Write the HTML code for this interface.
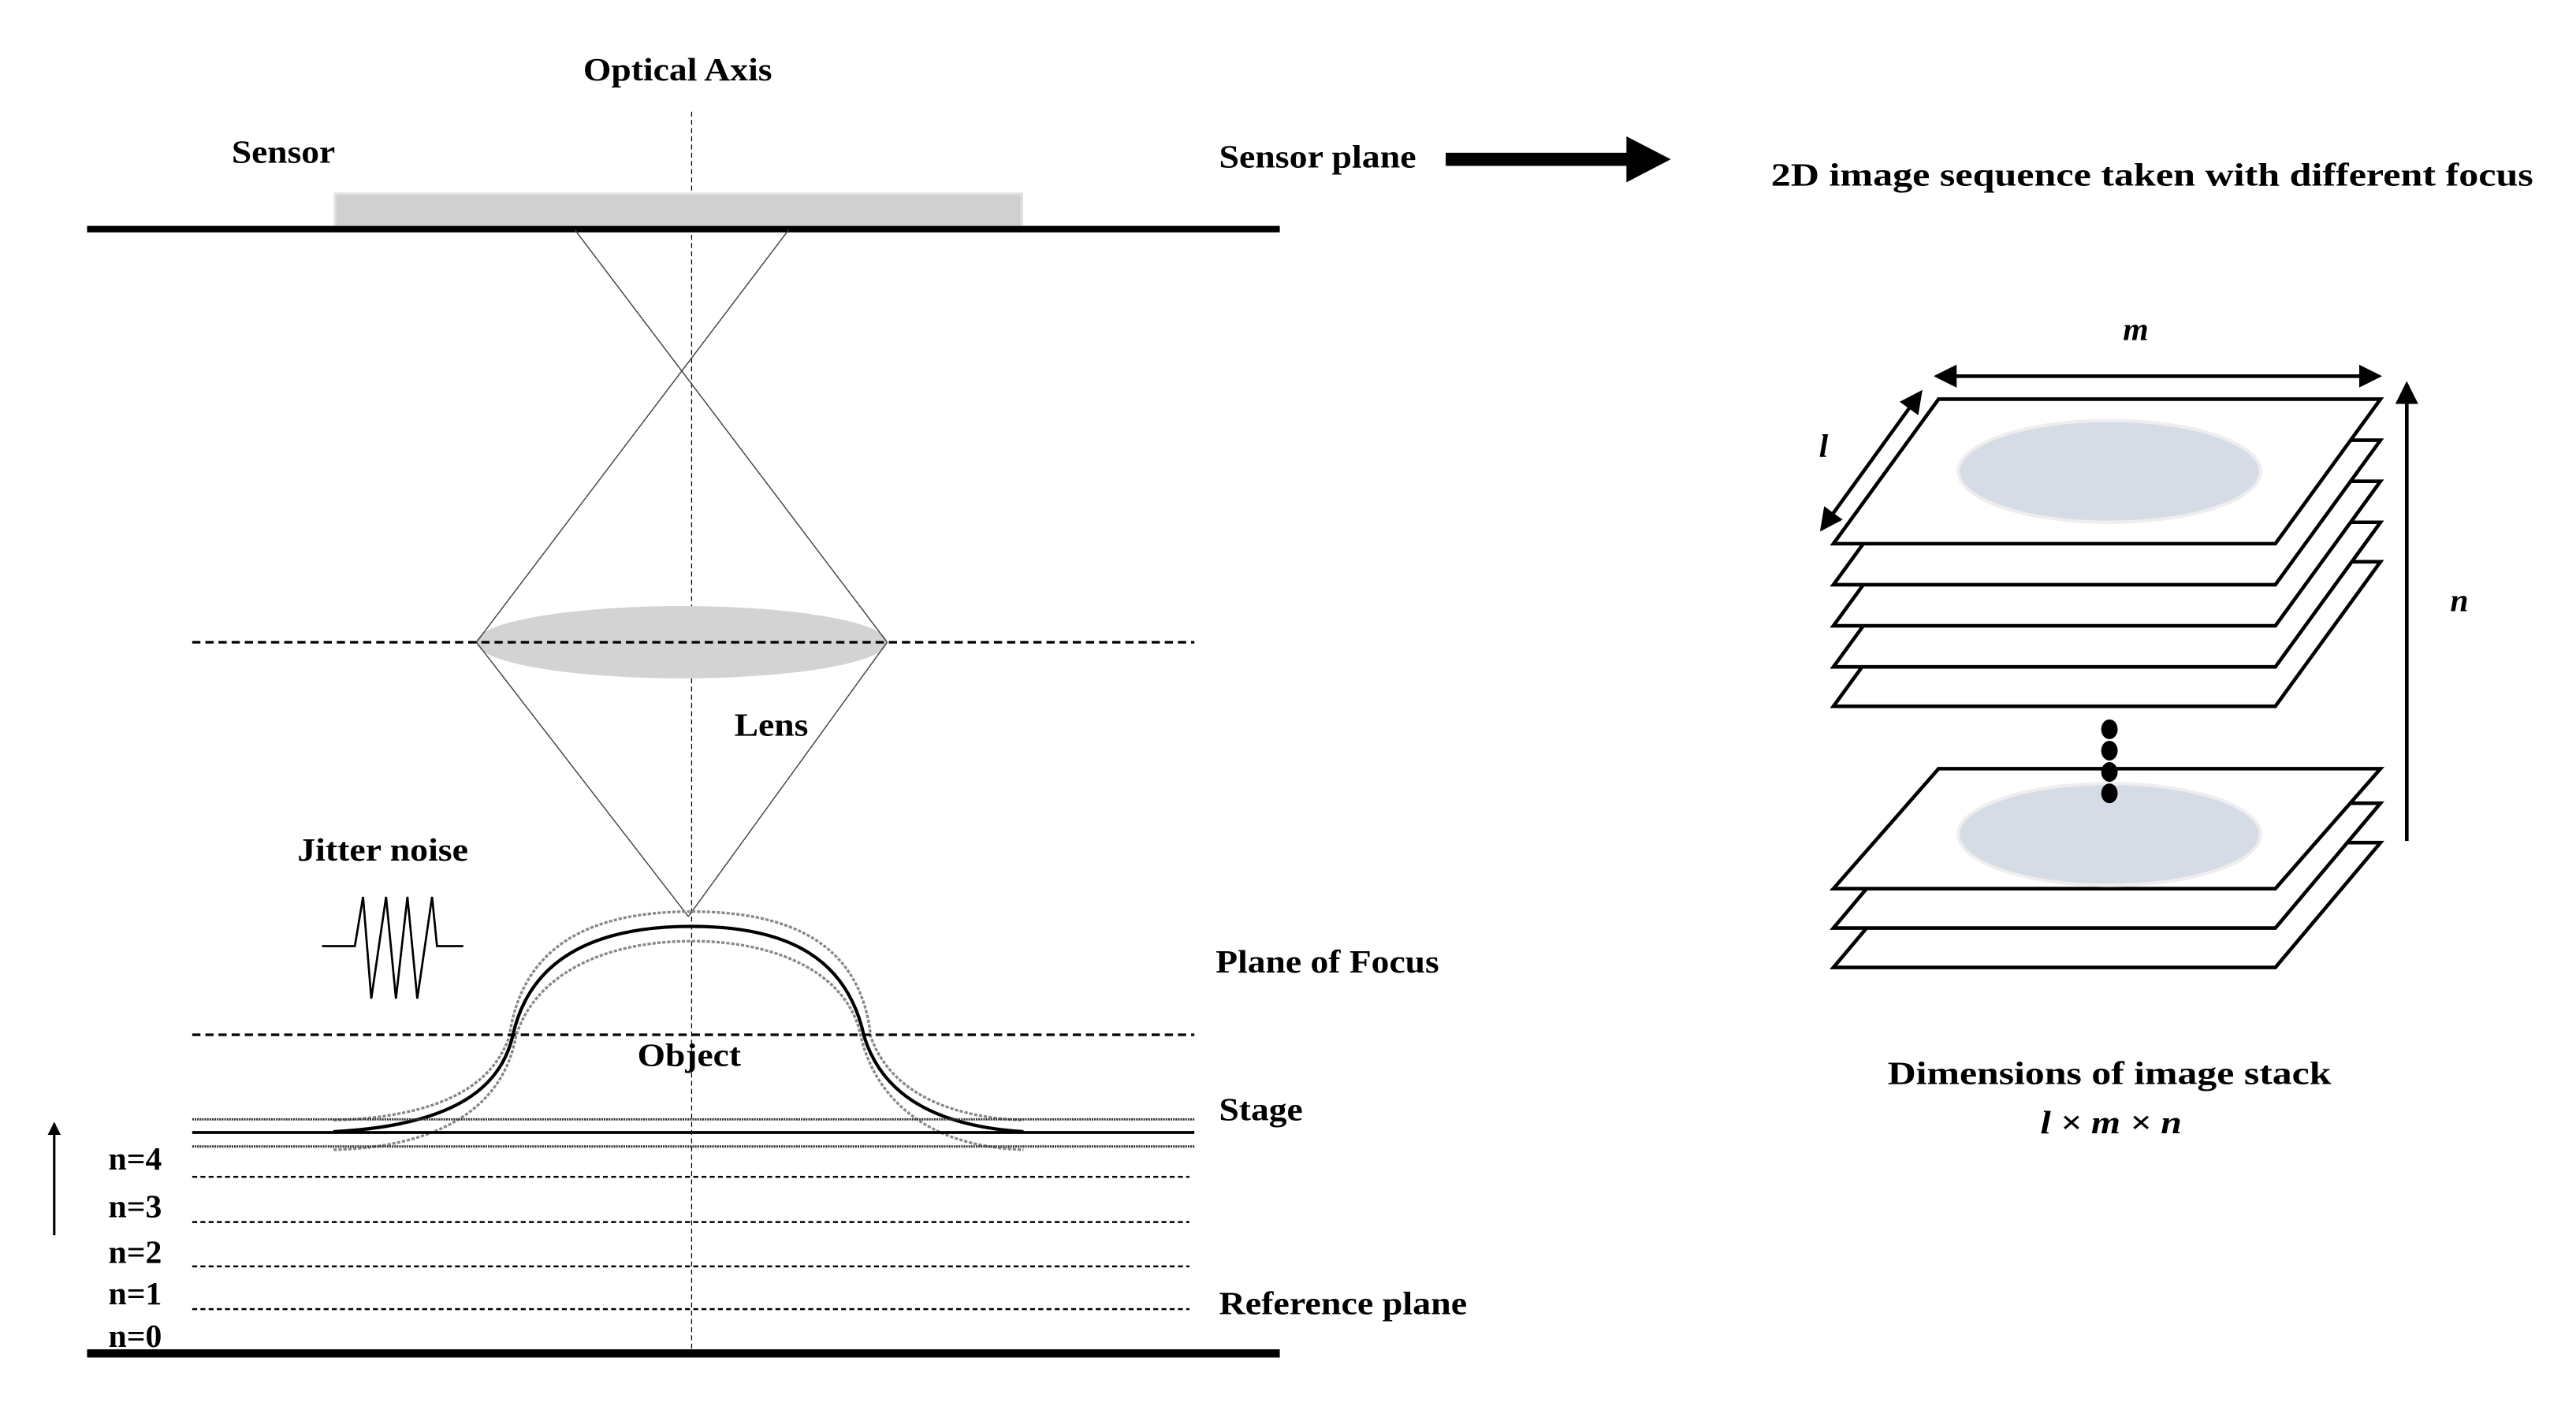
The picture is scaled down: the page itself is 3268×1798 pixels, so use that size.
<!DOCTYPE html>
<html><head><meta charset="utf-8"><style>
html,body{margin:0;padding:0;background:#fff}
svg{display:block}
text{font-family:"Liberation Serif",serif;font-weight:bold;font-size:20px;fill:#000}
</style></head><body>
<svg width="3268" height="1798" viewBox="0 0 1568 862.7" preserveAspectRatio="none" xmlns="http://www.w3.org/2000/svg">
<defs>
<marker id="ah" markerWidth="8" markerHeight="8" refX="7" refY="4" orient="auto" markerUnits="userSpaceOnUse"><path d="M0,0 L8,4 L0,8 z" fill="#000"/></marker>
<marker id="ah2" markerWidth="14" markerHeight="14" refX="12" refY="7" orient="auto-start-reverse" markerUnits="userSpaceOnUse"><path d="M0,0 L14,7 L0,14 z" fill="#000"/></marker>
</defs>
<text x="355" y="49" textLength="115" lengthAdjust="spacingAndGlyphs">Optical Axis</text>
<line x1="421" y1="68" x2="421" y2="822" stroke="#000" stroke-width="0.6" stroke-dasharray="3,2"/>
<text x="141" y="99" textLength="63" lengthAdjust="spacingAndGlyphs">Sensor</text>
<rect x="204" y="118" width="418" height="20" fill="#d0d0d0" stroke="#e0e0e0" stroke-width="1.5"/>
<line x1="53" y1="139.5" x2="779" y2="139.5" stroke="#000" stroke-width="4"/>
<text x="742" y="102" textLength="120" lengthAdjust="spacingAndGlyphs">Sensor plane</text>
<rect x="880" y="93" width="112" height="8" fill="#000"/>
<path d="M990,83 L1017,97 L990,111 z" fill="#000"/>
<text x="1078" y="113" textLength="464" lengthAdjust="spacingAndGlyphs">2D image sequence taken with different focus</text>
<ellipse cx="415" cy="391" rx="125" ry="22" fill="#d3d3d3"/>
<g stroke="#444" stroke-width="0.7" fill="none">
<line x1="350" y1="140" x2="540" y2="391"/>
<line x1="480" y1="140" x2="290" y2="391"/>
<line x1="290" y1="391" x2="419" y2="558"/>
<line x1="540" y1="391" x2="419" y2="558"/>
</g>
<line x1="117" y1="391" x2="727" y2="391" stroke="#000" stroke-width="1.6" stroke-dasharray="5,3"/>
<text x="447" y="448" textLength="45" lengthAdjust="spacingAndGlyphs">Lens</text>
<text x="181" y="524" textLength="104" lengthAdjust="spacingAndGlyphs">Jitter noise</text>
<polyline points="196,576 216,576 221,546 226,608 235,546 241,608 248,546 254,608 263,546 266,576 282,576" fill="none" stroke="#000" stroke-width="1.3"/>
<path d="M203,682 C270,680 300,660 310,631 C318,575 360,555 421,555 C482,555 524,575 530,631 C540,660 570,680 623,682" fill="none" stroke="#888" stroke-width="1.6" stroke-dasharray="2,1"/>
<path d="M203,700 C280,698 308,665 314,631 C325,595 365,573 421,573 C477,573 517,595 524,631 C532,665 560,698 623,700" fill="none" stroke="#888" stroke-width="1.6" stroke-dasharray="2,1"/>
<path d="M203,689 C280,685 305,660 312,631 C322,585 360,564 421,564 C482,564 516,585 526,631 C535,660 560,685 623,689" fill="none" stroke="#000" stroke-width="2"/>
<line x1="117" y1="630" x2="727" y2="630" stroke="#000" stroke-width="1.6" stroke-dasharray="5,3"/>
<text x="740" y="592" textLength="136" lengthAdjust="spacingAndGlyphs">Plane of Focus</text>
<text x="388" y="649" textLength="63" lengthAdjust="spacingAndGlyphs">Object</text>
<line x1="117" y1="681.5" x2="727" y2="681.5" stroke="#333" stroke-width="1.4" stroke-dasharray="1,0.5"/>
<line x1="117" y1="689.5" x2="727" y2="689.5" stroke="#000" stroke-width="1.8"/>
<line x1="117" y1="698" x2="727" y2="698" stroke="#333" stroke-width="1.4" stroke-dasharray="1,0.5"/>
<text x="742" y="682" textLength="51" lengthAdjust="spacingAndGlyphs">Stage</text>
<g stroke="#000" stroke-width="1.2" stroke-dasharray="3,2">
<line x1="117" y1="716.5" x2="724" y2="716.5"/>
<line x1="117" y1="744" x2="724" y2="744"/>
<line x1="117" y1="771" x2="724" y2="771"/>
<line x1="117" y1="797" x2="724" y2="797"/>
</g>
<line x1="33" y1="752" x2="33" y2="684" stroke="#000" stroke-width="1.5" marker-end="url(#ah)"/>
<g font-size="18">
<text x="66" y="712">n=4</text>
<text x="66" y="741">n=3</text>
<text x="66" y="769">n=2</text>
<text x="66" y="794">n=1</text>
<text x="66" y="820">n=0</text>
</g>
<text x="742" y="800" textLength="151" lengthAdjust="spacingAndGlyphs">Reference plane</text>
<line x1="53" y1="824" x2="779" y2="824" stroke="#000" stroke-width="5"/>
<g fill="#fff" stroke="#000" stroke-width="2.2">
<path d="M1180,342 L1449,342 L1385,430 L1116,430 z"/>
<path d="M1180,318 L1449,318 L1385,406 L1116,406 z"/>
<path d="M1180,293 L1449,293 L1385,381 L1116,381 z"/>
<path d="M1180,268 L1449,268 L1385,356 L1116,356 z"/>
<path d="M1180,243 L1449,243 L1385,331 L1116,331 z"/>
<path d="M1180,513 L1449,513 L1385,589 L1116,589 z"/>
<path d="M1180,489 L1449,489 L1385,565 L1116,565 z"/>
<path d="M1180,468 L1449,468 L1385,541 L1116,541 z"/>
</g>
<ellipse cx="1284" cy="287" rx="92" ry="31" fill="#d6dce5" stroke="#eee" stroke-width="2"/>
<ellipse cx="1284" cy="508" rx="92" ry="31" fill="#d6dce5" stroke="#eee" stroke-width="2"/>
<g fill="#000">
<ellipse cx="1284" cy="444" rx="5" ry="6"/>
<ellipse cx="1284" cy="457" rx="5" ry="6"/>
<ellipse cx="1284" cy="470" rx="5" ry="6"/>
<ellipse cx="1284" cy="483" rx="5" ry="6"/>
</g>
<line x1="1179" y1="229" x2="1448" y2="229" stroke="#000" stroke-width="2.2" marker-start="url(#ah2)" marker-end="url(#ah2)"/>
<line x1="1169" y1="239" x2="1109" y2="322" stroke="#000" stroke-width="2.2" marker-start="url(#ah2)" marker-end="url(#ah2)"/>
<line x1="1465" y1="512" x2="1465" y2="234" stroke="#000" stroke-width="2.2" marker-end="url(#ah2)"/>
<text x="1300" y="207" font-style="italic" text-anchor="middle">m</text>
<text x="1110" y="278" font-style="italic" text-anchor="middle">l</text>
<text x="1497" y="372" font-style="italic" text-anchor="middle">n</text>
<text x="1149" y="660" textLength="270" lengthAdjust="spacingAndGlyphs">Dimensions of image stack</text>
<text x="1242" y="690" font-style="italic" font-size="23" textLength="86" lengthAdjust="spacingAndGlyphs">l × m × n</text>
</svg>
</body></html>
